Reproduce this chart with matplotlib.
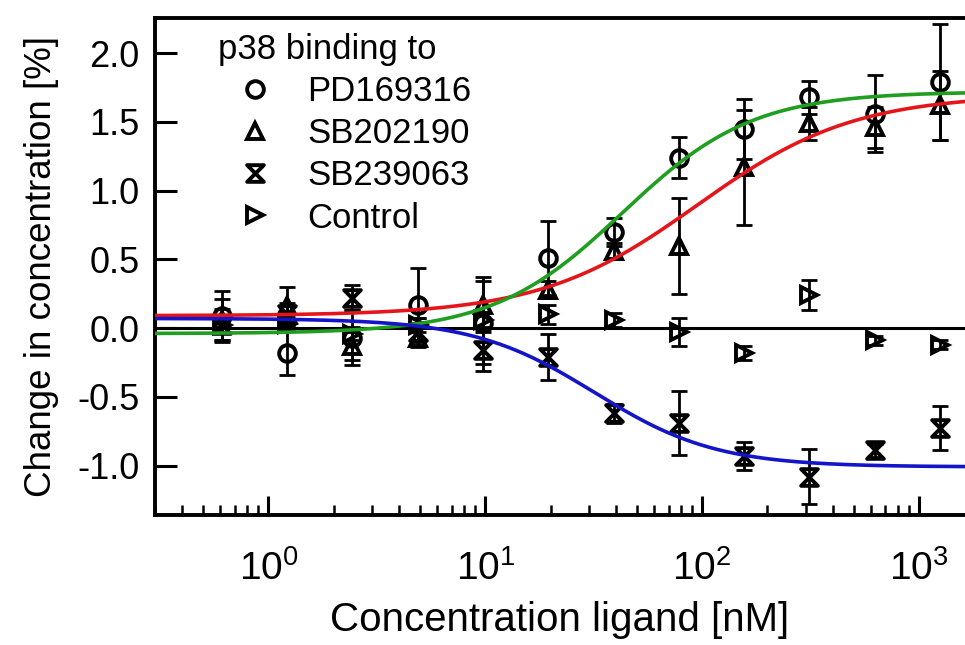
import numpy as np
import matplotlib.pyplot as plt
from matplotlib.path import Path
from matplotlib.lines import Line2D
from matplotlib.ticker import LogLocator, NullFormatter, FormatStrFormatter

plt.rcParams['font.family'] = ['Liberation Sans', 'DejaVu Sans']
plt.rcParams['mathtext.fontset'] = 'custom'
plt.rcParams['mathtext.rm'] = 'Liberation Sans'
plt.rcParams['mathtext.it'] = 'Liberation Sans:italic'
plt.rcParams['axes.unicode_minus'] = False

# ligand concentrations, 2-fold dilution series [nM]
conc = [0.61, 1.22, 2.44, 4.88, 9.77, 19.5, 39.1, 78.1, 156, 312, 625, 1250]

# measured change in concentration [%] and error
pd_y   = [0.09, -0.18, -0.07, 0.17, 0.04, 0.51, 0.70, 1.24, 1.45, 1.68, 1.56, 1.79]
pd_err = [0.18, 0.16, 0.20, 0.27, 0.30, 0.27, 0.10, 0.15, 0.22, 0.12, 0.28, 0.42]
sb2_y   = [0.06, 0.16, -0.13, -0.07, 0.17, 0.28, 0.56, 0.60, 1.17, 1.49, 1.46, 1.62]
sb2_err = [0.15, 0.14, 0.10, 0.07, 0.20, 0.06, 0.06, 0.35, 0.42, 0.12, 0.15, 0.25]
sb3_y   = [0.02, 0.10, 0.22, -0.03, -0.16, -0.21, -0.62, -0.69, -0.93, -1.08, -0.89, -0.73]
sb3_err = [0.12, 0.08, 0.09, 0.10, 0.15, 0.17, 0.07, 0.23, 0.10, 0.20, 0.05, 0.16]
ctl_y   = [0.02, 0.03, -0.04, 0.02, 0.06, 0.10, 0.06, -0.03, -0.18, 0.24, -0.09, -0.12]
ctl_err = [0.05, 0.05, 0.05, 0.05, 0.05, 0.07, 0.05, 0.10, 0.05, 0.11, 0.03, 0.03]

# Hill fit parameters: start, end, EC50 [nM], hill slope
pd_fit  = [-0.04, 1.72, 43.0, 1.45]
sb2_fit = [0.09, 1.70, 95.0, 1.2]
sb3_fit = [0.07, -1.01, 32.0, 1.55]

labels = ['PD169316', 'SB202190', 'SB239063', 'Control']


def hill(x, p):
    a, b, ec, h = p
    r = (x / ec) ** h
    return a + (b - a) * r / (1 + r)


# hourglass marker
hourglass = Path([(-1, 1), (1, 1), (-1, -1), (1, -1), (-1, 1)],
                 [Path.MOVETO, Path.LINETO, Path.LINETO, Path.LINETO, Path.CLOSEPOLY])
markers = ['o', '^', hourglass, '>']

fig = plt.figure(figsize=(9.65, 6.45), dpi=100)
ax = fig.add_axes([155 / 965, 1 - 515 / 645, 1 - 155 / 965, (515 - 18) / 645])

xmin, xmax = 0.30, 1630
xs = np.logspace(np.log10(xmin), np.log10(xmax), 400)

ax.axhline(0, color='k', lw=2.2, zorder=1)

series = [(pd_y, pd_err), (sb2_y, sb2_err), (sb3_y, sb3_err), (ctl_y, ctl_err)]
for (y, e), m in zip(series, markers):
    ax.errorbar(conc, y, yerr=e, fmt='none', ecolor='k', elinewidth=2.0,
                capsize=5.5, capthick=2.0, zorder=2)
    ax.plot(conc, y, linestyle='none', marker=m, ms=12, mfc='none', mec='k',
            mew=2.8, zorder=3)

ax.plot(xs, hill(xs, sb2_fit), color='#e4161b', lw=2.6, zorder=4)
ax.plot(xs, hill(xs, pd_fit), color='#1f9e1f', lw=2.6, zorder=4)
ax.plot(xs, hill(xs, sb3_fit), color='#1414c8', lw=2.6, zorder=4)

ax.set_xscale('log')
ax.set_xlim(xmin, xmax)
ax.set_ylim(-1.36, 2.256)
ax.set_yticks([-1.0, -0.5, 0.0, 0.5, 1.0, 1.5, 2.0])
ax.yaxis.set_major_formatter(FormatStrFormatter('%.1f'))
ax.xaxis.set_major_locator(LogLocator(base=10, numticks=10))
ax.xaxis.set_minor_locator(LogLocator(base=10, subs=np.arange(2, 10), numticks=10))
ax.xaxis.set_minor_formatter(NullFormatter())

ax.tick_params(axis='y', which='major', direction='in', length=16, width=2.2,
               labelsize=26, pad=11)
ax.tick_params(axis='x', which='major', direction='in', length=14, width=2.2,
               labelsize=28, pad=25)
ax.tick_params(axis='x', which='minor', direction='in', length=7, width=1.8)

for s in ['left', 'top', 'bottom']:
    ax.spines[s].set_linewidth(2.8)
ax.spines['right'].set_visible(False)

ax.set_xlabel('Concentration ligand [nM]', fontsize=29, labelpad=10)
ax.set_ylabel('Change in concentration [%]', fontsize=26.5, labelpad=13)

handles = [Line2D([], [], linestyle='none', marker=m, ms=12, mfc='none', mec='k', mew=2.8)
           for m in markers]
leg = ax.legend(handles, labels, title='p38 binding to', loc='upper left',
                bbox_to_anchor=(0.078, 0.969), frameon=False, fontsize=25,
                title_fontsize=25, alignment='left', handlelength=2.1,
                handletextpad=0.46, labelspacing=0.26, borderaxespad=0,
                borderpad=0)

fig.savefig('out.png', dpi=100)
